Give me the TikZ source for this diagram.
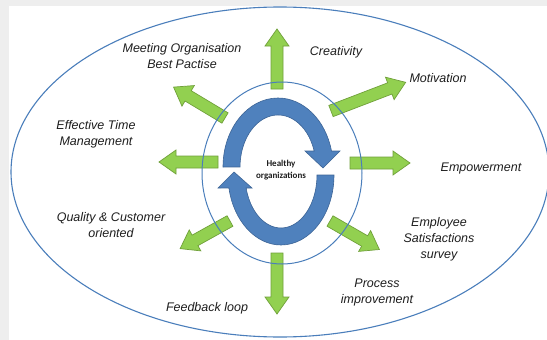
\documentclass[tikz,border=0pt]{standalone}
\usepackage{fontspec}
\setmainfont{Liberation Sans}
\newfontfamily\calib{Carlito}
\definecolor{bggray}{RGB}{238,238,238}
\definecolor{ringblue}{RGB}{74,126,187}
\definecolor{bluefill}{RGB}{79,129,189}
\definecolor{blueline}{RGB}{60,100,150}
\definecolor{greenfill}{RGB}{146,208,80}
\definecolor{greenline}{RGB}{112,160,58}
\definecolor{txt}{RGB}{30,30,30}
\begin{document}
\begin{tikzpicture}[x=1pt,y=-1pt,
  lbl/.style={font=\fontsize{12.5}{16}\selectfont\itshape, align=center, text=txt, inner sep=0pt},
  ring/.style={draw=ringblue, line width=1pt},
  gstyle/.style={fill=greenfill, draw=greenline, line width=0.7pt, line join=miter},
  bstyle/.style={fill=bluefill, draw=blueline, line width=0.6pt},
  pics/garrow/.style={code={
    \filldraw[gstyle] (0,-6) -- ({#1-17},-6) -- ({#1-17},-12) -- (#1,0)
      -- ({#1-17},12) -- ({#1-17},6) -- (0,6) -- cycle;}}
]
\useasboundingbox (0,0) rectangle (547,340);
\begin{scope}
\clip (0,0) rectangle (547,340);
\fill[bggray] (0,0) rectangle (547,340);
\fill[white] (9,6) rectangle (547,340);
% outer ellipse
\draw[ring, line width=1.1pt] (280,172) ellipse[x radius=269, y radius=165];
\end{scope}

% green arrows
\pic[rotate=90] at (277,89) {garrow=60};
\pic[rotate=-90] at (277,253) {garrow=61};
\pic[rotate=180] at (218,162) {garrow=59};
\pic[rotate=0] at (350,163) {garrow=60};
\pic[rotate=149] at (225,118) {garrow=60};
\pic[rotate=21] at (331,111) {garrow=80};
\pic[rotate=209] at (230,221) {garrow=57};
\pic[rotate=-30] at (330,221) {garrow=57};

% blue cycle arrows
\filldraw[bstyle] (223,167) arc[start angle=180, end angle=346.6, x radius=55, y radius=69]
  -- (340,151) -- (323,168) -- (305,151) -- (314.2,151)
  arc[start angle=342.1, end angle=180, x radius=38, y radius=52] -- cycle;
\filldraw[bstyle] (334,175) arc[start angle=0, end angle=169.3, x radius=53, y radius=70]
  -- (218,188) -- (234,172) -- (252,188) -- (246.1,188)
  arc[start angle=165.8, end angle=0, x radius=36, y radius=53] -- cycle;

% inner circle
\draw[ring] (282,173) ellipse[x radius=80, y radius=91];

% texts
\node[inner sep=0pt, align=center, text=txt, font=\calib\bfseries\fontsize{9}{12.5}\selectfont] (healthy) at (281,170) {Healthy\\organizations};
\node[lbl] (meet) at (182,56) {Meeting Organisation\\Best Pactise};
\node[lbl] (creat) at (336,52) {Creativity};
\node[lbl] (motiv) at (438,78) {Motivation};
\node[lbl] (effect) at (96,134) {Effective Time\\Management};
\node[lbl] (empow) at (481,168) {Empowerment};
\node[lbl] (qual) at (111,225) {Quality \& Customer\\oriented};
\node[lbl] (employ) at (439,239) {Employee\\Satisfactions\\survey};
\node[lbl] (proc) at (377,292) {Process\\improvement};
\node[lbl] (feed) at (207,308) {Feedback loop};
\end{tikzpicture}
\end{document}
